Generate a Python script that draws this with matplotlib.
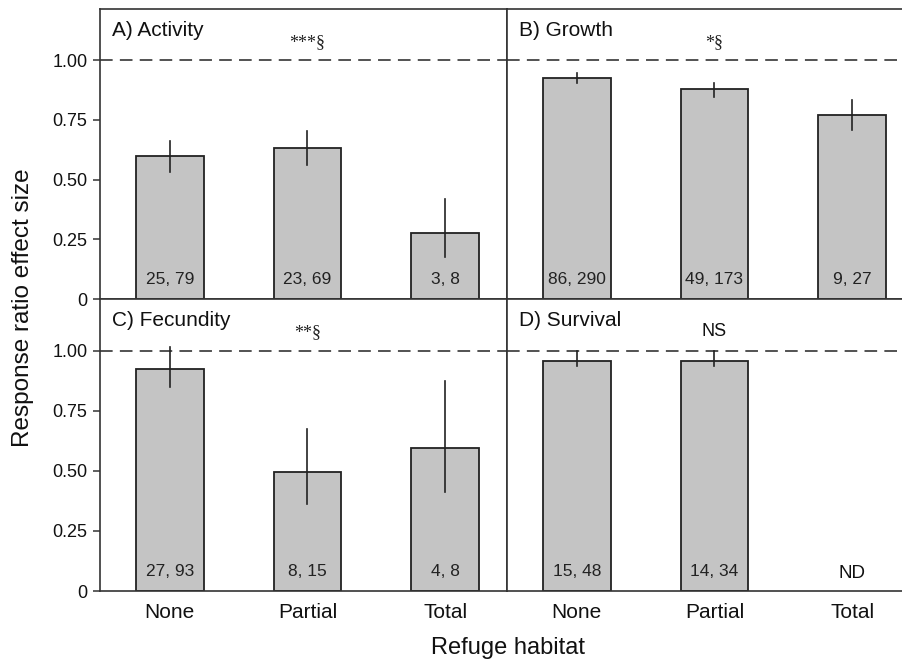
import matplotlib.pyplot as plt

plt.rcParams['font.family'] = ['Liberation Sans', 'DejaVu Sans']

habitat = ['None', 'Partial', 'Total']

# mean response ratio and lower/upper CI per panel
activity = [0.60, 0.632, 0.278]
activity_lo = [0.533, 0.561, 0.176]
activity_hi = [0.66, 0.704, 0.42]

growth = [0.925, 0.879, 0.771]
growth_lo = [0.904, 0.847, 0.71]
growth_hi = [0.946, 0.903, 0.835]

fecundity = [0.925, 0.494, 0.594]
fecundity_lo = [0.849, 0.36, 0.411]
fecundity_hi = [1.016, 0.676, 0.874]

survival = [0.959, 0.959, None]
survival_lo = [0.935, 0.935, None]
survival_hi = [1.0, 1.0, None]

counts_a = ['25, 79', '23, 69', '3, 8']
counts_b = ['86, 290', '49, 173', '9, 27']
counts_c = ['27, 93', '8, 15', '4, 8']
counts_d = ['15, 48', '14, 34', 'ND']

panels = [
    ('A) Activity', activity, activity_lo, activity_hi, counts_a, '***§', 'serif'),
    ('B) Growth', growth, growth_lo, growth_hi, counts_b, '*§', 'serif'),
    ('C) Fecundity', fecundity, fecundity_lo, fecundity_hi, counts_c, '**§', 'serif'),
    ('D) Survival', survival, survival_lo, survival_hi, counts_d, 'NS', 'sans'),
]

fig = plt.figure(figsize=(9.03, 6.61), dpi=100)

W, H = 903, 661
boxes = [(100, 9, 407, 290), (507, 9, 407, 290),
         (100, 299, 407, 292), (507, 299, 407, 292)]

line_col = '#333333'
x = [0, 1, 2]

for i, (title, vals, lo, hi, counts, sig, sigfont) in enumerate(panels):
    l, t, w, h = boxes[i]
    ax = fig.add_axes([l / W, 1 - (t + h) / H, w / W, h / H])
    ax.set_xlim(-0.507, 2.449)
    ax.set_ylim(0, 1.215)

    for xi, v, a, b, c in zip(x, vals, lo, hi, counts):
        if v is not None:
            ax.bar(xi, v, width=0.49, color='#c4c4c4', edgecolor='#222222',
                   linewidth=1.3, zorder=2)
            ax.plot([xi, xi], [a, b], color='#222222', lw=1.2, zorder=3)
            ax.text(xi, 0.083, c, ha='center', va='center', fontsize=12.5,
                    color='#222222', zorder=4)
        else:
            # no data
            ax.text(xi, 0.073, c, ha='center', va='center', fontsize=13.5,
                    color='#111111')

    ax.axhline(1.0, color='#444444', lw=1.3, dashes=(7, 4), zorder=1)
    ax.text(0.03, 0.96, title, transform=ax.transAxes, ha='left', va='top',
            fontsize=15, color='#111111')
    if sigfont == 'serif':
        ax.text(1, 1.075, sig, ha='center', va='center', fontsize=13,
                family=['Liberation Serif', 'DejaVu Serif'], color='#222222')
    else:
        ax.text(1, 1.08, sig, ha='center', va='center', fontsize=13,
                color='#111111')

    for s in ax.spines.values():
        s.set_color(line_col)
        s.set_linewidth(1.2)

    ax.tick_params(axis='x', length=0, labelsize=15, pad=9, colors='#111111')
    if i >= 2:
        ax.set_xticks(x)
        ax.set_xticklabels(habitat)
    else:
        ax.set_xticks([])

    if i % 2 == 0:
        ax.set_yticks([0, 0.25, 0.5, 0.75, 1.0])
        ax.set_yticklabels(['0', '0.25', '0.50', '0.75', '1.00'])
        ax.tick_params(axis='y', length=5, width=1.1, color=line_col,
                       labelsize=13, pad=4, labelcolor='#111111')
    else:
        ax.set_yticks([])

fig.text(23 / W, 1 - 308 / H, 'Response ratio effect size', rotation=90,
         ha='center', va='center', fontsize=17.5, color='#111111')
fig.text(508 / W, 1 - 648 / H, 'Refuge habitat', ha='center', va='center',
         fontsize=17, color='#111111')

fig.savefig('out.png', dpi=100)
